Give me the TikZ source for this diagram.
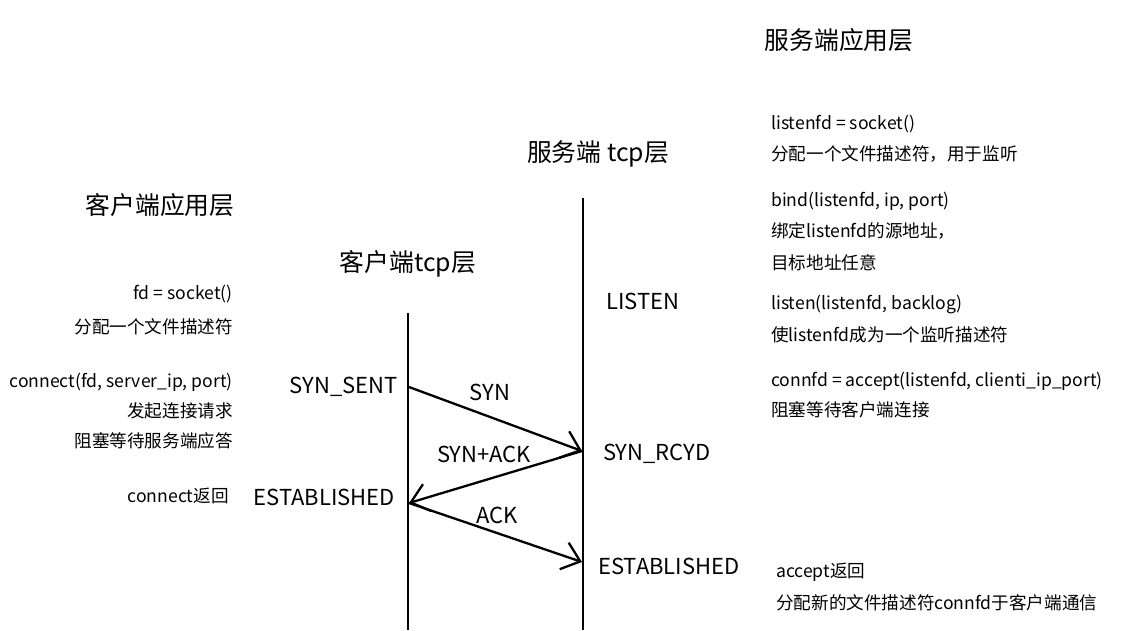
\documentclass[tikz,border=0pt]{standalone}
\usepackage{fontspec}
\setmainfont{Noto Sans CJK SC}
\usetikzlibrary{arrows.meta}

\tikzset{
    lifeline/.style={line width=2.6pt},
    msg/.style={line width=2.3pt,
        -{Straight Barb[length=17pt,width=28pt,line width=2.3pt]}},
    title/.style={font=\fontsize{24.8}{28}\selectfont, yshift=-6pt,
        inner sep=0pt, text height=0.62em, text depth=0pt},
    state/.style={font=\fontsize{22}{26}\selectfont, yshift=-5pt,
        inner sep=0pt, text height=0.66em, text depth=0pt},
    note/.style={font=\fontsize{17.6}{21}\selectfont, yshift=-4pt,
        inner sep=0pt, text height=0.62em, text depth=0pt}
}

\begin{document}
\begin{tikzpicture}[x=1pt,y=-1pt]

    % -------------------------------------------------
    % White background (fixes the page size)
    % -------------------------------------------------
    \fill[white] (0,0) rectangle (1123,630);
    \useasboundingbox (0,0) rectangle (1123,630);

    % -------------------------------------------------
    % Layer titles
    % -------------------------------------------------
    \node[title] (srvApp) at (839,40) {服务端应用层};
    \node[title] (srvTcp) at (598,152) {服务端 tcp层};
    \node[title] (cliApp) at (160,205) {客户端应用层};
    \node[title] (cliTcp) at (408,262) {客户端tcp层};

    % -------------------------------------------------
    % Life lines of the two tcp layers
    % -------------------------------------------------
    \coordinate (cliTop) at (408,313);
    \coordinate (cliBot) at (408,630);
    \coordinate (srvTop) at (583,198);
    \coordinate (srvBot) at (583,630);
    \draw[lifeline] (cliTop) -- (cliBot);
    \draw[lifeline] (srvTop) -- (srvBot);

    % -------------------------------------------------
    % States
    % -------------------------------------------------
    \node[state, anchor=west] (listen) at (606,301) {LISTEN};
    \node[state, anchor=east] (synSent) at (398,385) {SYN\_SENT};
    \node[state, anchor=west] (synRcvd) at (603,452) {SYN\_RCYD};
    \node[state, anchor=east] (cliEst) at (395,497) {ESTABLISHED};
    \node[state, anchor=west] (srvEst) at (598,566) {ESTABLISHED};

    % -------------------------------------------------
    % Three way handshake
    % -------------------------------------------------
    \coordinate (p1) at (409,387);
    \coordinate (p2) at (582,451);
    \coordinate (p3) at (409,503);
    \coordinate (p4) at (582,562);
    \draw[msg] (p1) -- (p2);
    \draw[msg] (p2) -- (p3);
    \draw[msg] (p3) -- (p4);
    \node[state] (syn) at (490,392) {SYN};
    \node[state] (synAck) at (484,454) {SYN+ACK};
    \node[state] (ack) at (497,515) {ACK};

    % -------------------------------------------------
    % Client application calls (right aligned)
    % -------------------------------------------------
    \node[note, anchor=east] (c1) at (233,292) {fd = socket()};
    \node[note, anchor=east] (c2) at (233,326) {分配一个文件描述符};
    \node[note, anchor=east] (c3) at (233,380) {connect(fd, server\_ip, port)};
    \node[note, anchor=east] (c4) at (233,410) {发起连接请求};
    \node[note, anchor=east] (c5) at (233,440) {阻塞等待服务端应答};
    \node[note, anchor=east] (c6) at (229,495) {connect返回};

    % -------------------------------------------------
    % Server application calls (left aligned)
    % -------------------------------------------------
    \foreach \name/\y/\txt in {
        s1/122/{listenfd = socket()},
        s2/153/{分配一个文件描述符，用于监听},
        s3/199/{bind(listenfd, ip, port)},
        s4/230/{绑定listenfd的源地址，},
        s5/262/{目标地址任意},
        s6/302/{listen(listenfd, backlog)},
        s7/334/{使listenfd成为一个监听描述符},
        s8/379/{connfd = accept(listenfd, clienti\_ip\_port)},
        s9/409/{阻塞等待客户端连接}
    }{
        \node[note, anchor=west] (\name) at (771,\y) {\txt};
    }
    \node[note, anchor=west] (s10) at (776,570) {accept返回};
    \node[note, anchor=west] (s11) at (776,602) {分配新的文件描述符connfd于客户端通信};

\end{tikzpicture}
\end{document}
